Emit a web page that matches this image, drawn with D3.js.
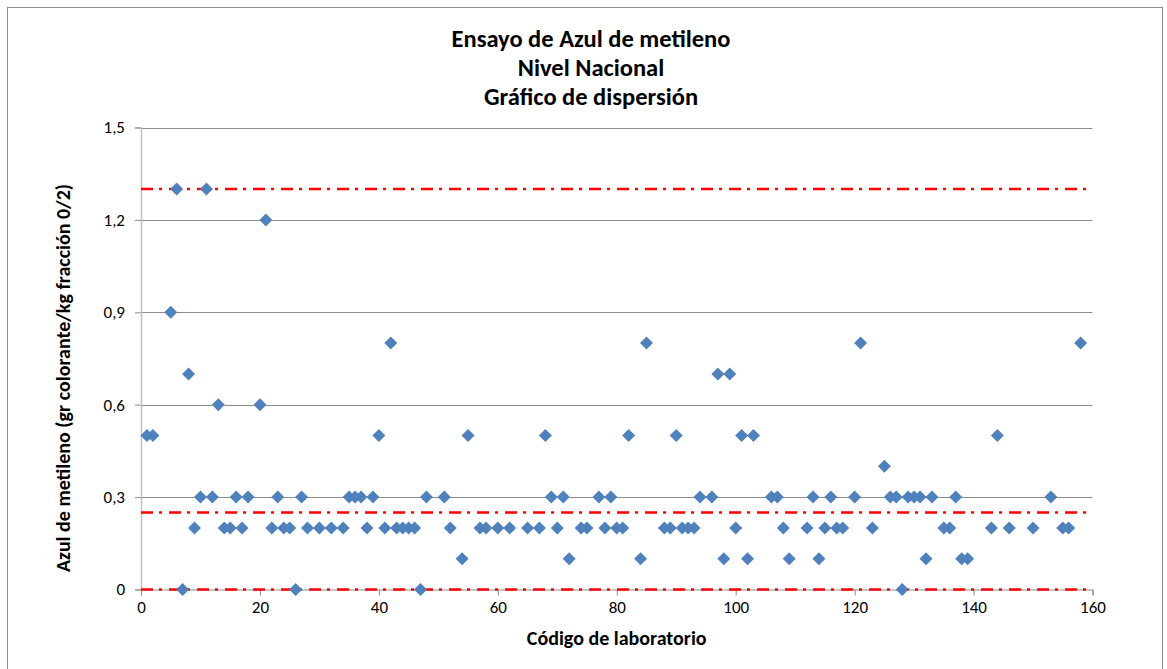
<!DOCTYPE html>
<html>
<head>
<meta charset="utf-8">
<script src="https://cdn.jsdelivr.net/npm/d3@7"></script>
<style>
  html, body { margin: 0; padding: 0; background: #fff; }
  svg { display: block; }
  text { font-family: Carlito, Lato, "Open Sans", sans-serif; fill: #000; }
</style>
</head>
<body>
<svg id="chart" width="1167" height="669"></svg>
<script>
// ---- data ----
const titleLines = ["Ensayo de Azul de metileno", "Nivel Nacional", "Gráfico de dispersión"];
const xTitle = "Código de laboratorio";
const yTitle = "Azul de metileno (gr colorante/kg fracción 0/2)";

const labCodes = [1,2,5,6,7,8,9,10,11,12,13,14,15,16,17,18,20,21,22,23,24,25,26,27,28,30,32,34,35,36,37,38,39,40,41,42,43,44,45,46,47,48,51,52,54,55,57,58,60,62,65,67,68,69,70,71,72,74,75,77,78,79,80,81,82,84,85,88,89,90,91,92,93,94,96,97,98,99,100,101,102,103,106,107,108,109,112,113,114,115,116,117,118,120,121,123,125,126,127,128,129,130,131,132,133,135,136,137,138,139,143,144,146,150,153,155,156,158];
const labValues = [0.5,0.5,0.9,1.3,0,0.7,0.2,0.3,1.3,0.3,0.6,0.2,0.2,0.3,0.2,0.3,0.6,1.2,0.2,0.3,0.2,0.2,0,0.3,0.2,0.2,0.2,0.2,0.3,0.3,0.3,0.2,0.3,0.5,0.2,0.8,0.2,0.2,0.2,0.2,0,0.3,0.3,0.2,0.1,0.5,0.2,0.2,0.2,0.2,0.2,0.2,0.5,0.3,0.2,0.3,0.1,0.2,0.2,0.3,0.2,0.3,0.2,0.2,0.5,0.1,0.8,0.2,0.2,0.5,0.2,0.2,0.2,0.3,0.3,0.7,0.1,0.7,0.2,0.5,0.1,0.5,0.3,0.3,0.2,0.1,0.2,0.3,0.1,0.2,0.3,0.2,0.2,0.3,0.8,0.2,0.4,0.3,0.3,0,0.3,0.3,0.3,0.1,0.3,0.2,0.2,0.3,0.1,0.1,0.2,0.5,0.2,0.2,0.3,0.2,0.2,0.8];

const limitValues = [1.3, 0.25, 0];
const xTicks = [0,20,40,60,80,100,120,140,160];
const yTicks = [0,0.3,0.6,0.9,1.2,1.5];

// ---- layout ----
const svg = d3.select("#chart");
const plotL = 141, plotR = 1092.5, plotT = 127.5, plotB = 589.5;

const x = d3.scaleLinear().domain([0,160]).range([plotL, plotR]);
const y = d3.scaleLinear().domain([0,1.5]).range([plotB, plotT]);
const fmt = v => d3.format("")(v).replace(".", ",");

// outer chart border
svg.append("rect").attr("x",7.5).attr("y",7.5).attr("width",1155).attr("height",700)
  .attr("fill","none").attr("stroke","#8c8c8c").attr("stroke-width",1);

// gridlines
svg.append("g").selectAll("line").data(yTicks.filter(d => d > 0)).join("line")
  .attr("x1", plotL).attr("x2", plotR)
  .attr("y1", d => Math.round(y(d)) + 0.5).attr("y2", d => Math.round(y(d)) + 0.5)
  .attr("stroke", "#8c8c8c").attr("stroke-width", 1);

// y axis
const yAxis = d3.axisLeft(y).tickValues(yTicks).tickFormat(fmt).tickSize(6).tickPadding(10);
const gy = svg.append("g").attr("transform", `translate(${plotL},0)`).call(yAxis);
gy.select(".domain").attr("stroke", "#bfbfbf").attr("stroke-width", 1.5);
gy.selectAll(".tick line").attr("stroke", "#8c8c8c");
gy.selectAll(".tick text").style("font-size", "17px").attr("fill", "#000")
  .style("font-family", "Carlito, Lato, sans-serif");

// x axis
const xAxis = d3.axisBottom(x).tickValues(xTicks).tickFormat(d3.format("d")).tickSize(6).tickPadding(5);
const gx = svg.append("g").attr("transform", `translate(0,${plotB})`).call(xAxis);
gx.select(".domain").attr("stroke", "#8c8c8c").attr("stroke-width", 1);
gx.selectAll(".tick line").attr("stroke", "#8c8c8c");
gx.selectAll(".tick text").style("font-size", "17px").attr("fill", "#000")
  .style("font-family", "Carlito, Lato, sans-serif");

// limit lines
svg.append("g").selectAll("line").data(limitValues).join("line")
  .attr("x1", x(0)).attr("x2", x(160))
  .attr("y1", d => y(d)).attr("y2", d => y(d))
  .attr("stroke", "#ff0000").attr("stroke-width", 2.5)
  .attr("stroke-dasharray", "12,6,3,7");

// points
const pts = labCodes.map((c, i) => ({c, v: labValues[i]}));
const r = 6.5;
svg.append("g").selectAll("path").data(pts).join("path")
  .attr("d", `M0,${-r}L${r},0L0,${r}L${-r},0Z`)
  .attr("transform", d => `translate(${x(d.c)},${y(d.v)})`)
  .attr("fill", "#4f81bd");

// title
svg.append("g").selectAll("text").data(titleLines).join("text")
  .attr("x", 591).attr("y", (d, i) => 47 + i * 29)
  .attr("text-anchor", "middle")
  .style("font-size", "24.5px").style("font-weight", "bold")
  .text(d => d);

// axis titles
svg.append("text").attr("x", (plotL + plotR) / 2).attr("y", 645)
  .attr("text-anchor", "middle").style("font-size", "20px").style("font-weight", "bold")
  .text(xTitle);
svg.append("text").attr("transform", "translate(70,378) rotate(-90)")
  .attr("text-anchor", "middle").style("font-size", "20px").style("font-weight", "bold")
  .text(yTitle);
</script>
</body>
</html>
